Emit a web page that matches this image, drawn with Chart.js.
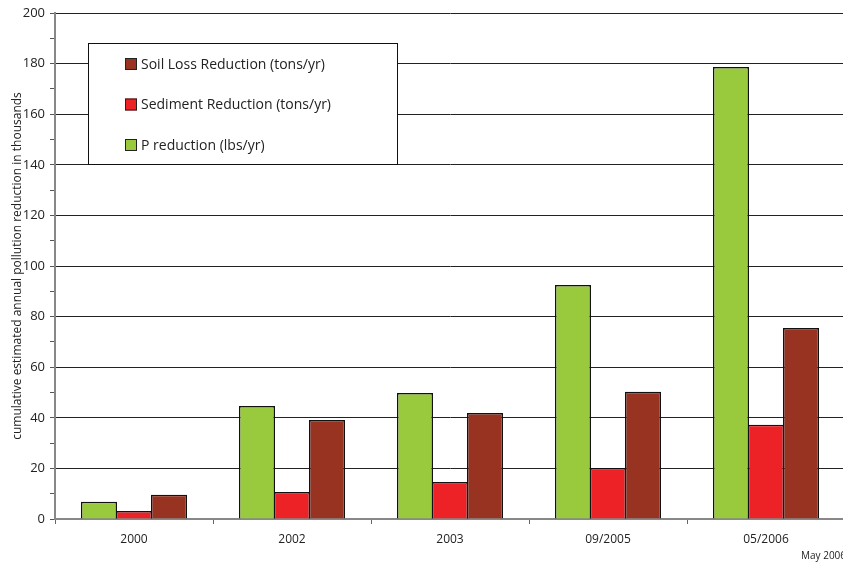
<!DOCTYPE html>
<html>
<head>
<meta charset="utf-8">
<script src="https://cdn.jsdelivr.net/npm/chart.js@4"></script>
<style>
  html, body { margin: 0; padding: 0; background: #fff; overflow: hidden; }
  #wrap { width: 846px; height: 563px; }
</style>
</head>
<body>
<div id="wrap"><canvas id="chart"></canvas></div>
<script>
const categories = ["2000", "2002", "2003", "09/2005", "05/2006"];
const pReduction = [6.8, 44.7, 49.8, 92.5, 178.7];
const sedimentReduction = [3.2, 10.7, 14.6, 20.2, 37.3];
const soilLossReduction = [9.6, 39.1, 41.9, 50.3, 75.5];
const seriesNames = ["P reduction (lbs/yr)", "Sediment Reduction (tons/yr)", "Soil Loss Reduction (tons/yr)"];
const seriesColors = ["#99c93c", "#ec2227", "#983322"];
const FONT = "'Open Sans', sans-serif";

// legend drawn inside the plot, in a white box, reverse order
const boxLegend = {
    id: "boxLegend",
    afterDraw(chart) {
        const ctx = chart.ctx;
        ctx.save();
        ctx.fillStyle = "#fff";
        ctx.fillRect(88, 43, 309, 121);
        ctx.strokeStyle = "#111";
        ctx.lineWidth = 1;
        ctx.strokeRect(88.5, 43.5, 309, 121);
        const ds = chart.data.datasets.slice().reverse();
        ds.forEach((d, i) => {
            const y = 64 + i * 40.5;
            ctx.fillStyle = d.backgroundColor;
            ctx.fillRect(125, y - 6, 12, 12);
            ctx.strokeStyle = "#222";
            ctx.strokeRect(125.5, y - 5.5, 11, 11);
            ctx.fillStyle = "#222";
            ctx.font = "14px " + FONT;
            ctx.textBaseline = "middle";
            ctx.fillText(d.label, 141, y + 1);
        });
        ctx.font = "10px " + FONT;
        ctx.fillStyle = "#222";
        ctx.fillText("May 2006", 801, 556);
        ctx.restore();
    }
};

new Chart(document.getElementById("chart"), {
    type: "bar",
    data: {
        labels: categories,
        datasets: [pReduction, sedimentReduction, soilLossReduction].map((vals, i) => ({
            label: seriesNames[i],
            data: vals,
            backgroundColor: seriesColors[i],
            borderColor: "#111",
            borderWidth: 1.5,
            categoryPercentage: 0.665,
            barPercentage: 1.03
        }))
    },
    options: {
        responsive: true,
        maintainAspectRatio: false,
        animation: false,
        layout: { padding: { left: 10, top: 13, right: 1, bottom: 0 } },
        plugins: { legend: { display: false }, tooltip: { enabled: false } },
        scales: {
            x: {
                offset: true,
                afterFit: s => { s.height = 44; },
                grid: { offset: true, drawOnChartArea: false, color: "#666", tickLength: 5 },
                border: { color: "#888", width: 2 },
                ticks: { color: "#222", font: { family: FONT, size: 12 }, padding: 8 }
            },
            y: {
                min: 0, max: 200,
                afterFit: s => { s.width = 45; },
                ticks: {
                    stepSize: 10,
                    color: "#222",
                    font: { family: FONT, size: 13 },
                    padding: 5,
                    callback: v => (v % 20 === 0 ? v : "")
                },
                grid: {
                    tickLength: 5,
                    color: c => (c.tick && c.tick.value % 20 === 0 ? (c.tick.value === 0 ? "#888" : "#222") : "rgba(0,0,0,0)"),
                    tickColor: "#555"
                },
                border: { color: "#888", width: 2 },
                title: {
                    display: true,
                    text: "cumulative estimated annual pollution reduction in thousands",
                    color: "#222",
                    font: { family: FONT, size: 12 },
                    padding: 0
                }
            }
        }
    },
    plugins: [boxLegend]
});
</script>
</body>
</html>
